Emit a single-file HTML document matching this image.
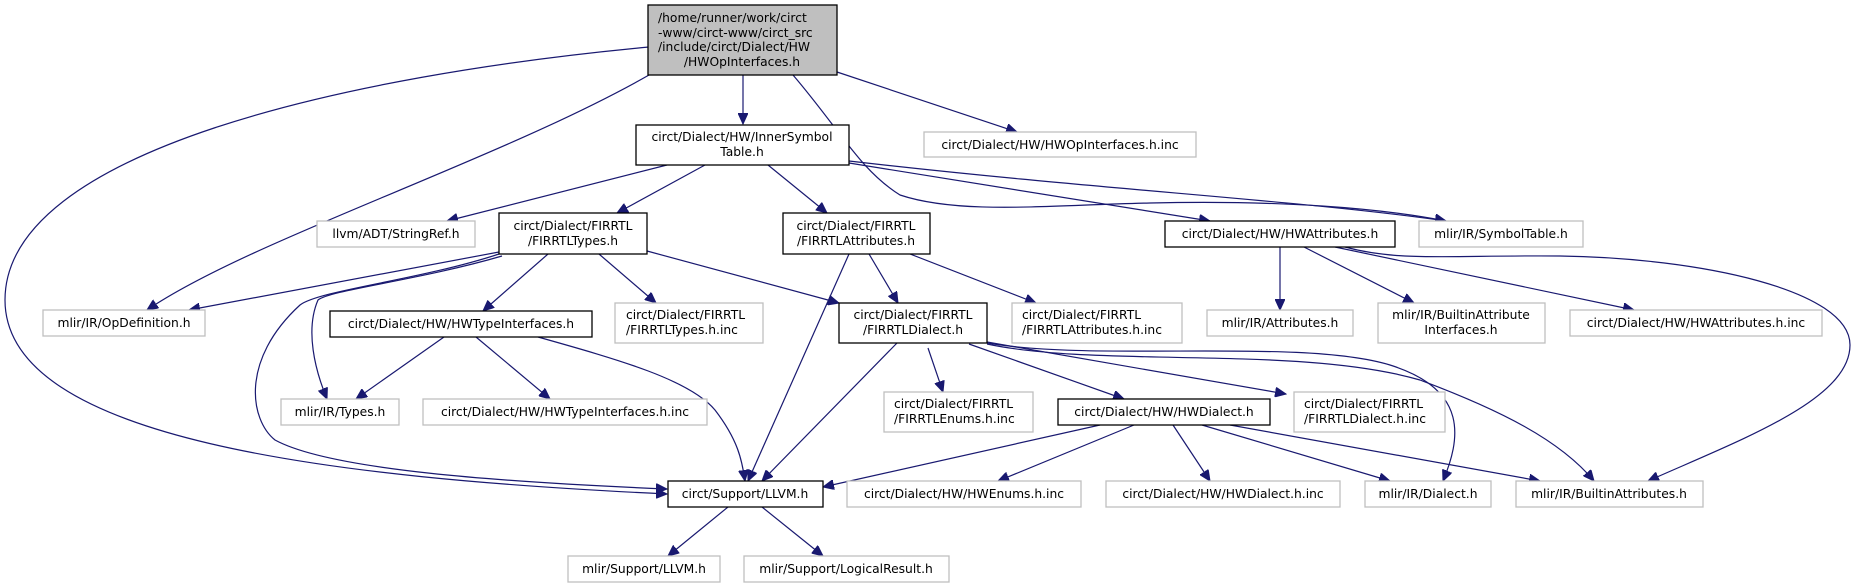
<!DOCTYPE html>
<html><head><meta charset="utf-8"><style>
html,body{margin:0;padding:0;background:#fff;}
svg{display:block;}
text{font-family:"DejaVu Sans","Liberation Sans",sans-serif;font-size:12.3px;fill:#000;}
.g{fill:#fff;stroke:#bfbfbf;stroke-width:1.3;}
.b{fill:#fff;stroke:#000;stroke-width:1.3;}
.e{fill:none;stroke:#191970;stroke-width:1.2;}
</style></head><body>
<svg width="1856" height="588" viewBox="0 0 1856 588" xmlns="http://www.w3.org/2000/svg">
<defs><marker id="a" markerUnits="userSpaceOnUse" markerWidth="12" markerHeight="10" refX="11" refY="5" orient="auto"><path d="M0,0 L11,5 L0,10 z" fill="#191970" stroke="#191970"/></marker></defs>

<g class="e" marker-end="url(#a)">
<path d="M743,75 L743,124"/>
<path d="M649,47 C350,75 5,150 5,300 C5,440 330,478 667,494"/>
<path d="M649,75 C500,160 250,240 147,310"/>
<path d="M793,75 C840,130 860,170 900,195 C960,215 1050,205 1150,203 C1280,200 1380,208 1446,221"/>
<path d="M837,72 L1017,132"/>
<path d="M667,165 L447,221"/>
<path d="M705,165 L617,213"/>
<path d="M768,165 L827,213"/>
<path d="M849,163 L1210,221"/>
<path d="M849,161 C1100,190 1300,200 1446,221"/>
<path d="M499,252 L189,310"/>
<path d="M499,254 C420,280 320,290 300,305 C240,360 250,420 275,440 C330,470 500,482 667,489"/>
<path d="M502,256 C420,280 330,290 318,300 C305,330 315,370 327,399"/>
<path d="M548,254 L483,311"/>
<path d="M599,254 L656,303"/>
<path d="M647,251 L839,303"/>
<path d="M849,254 L748,481"/>
<path d="M869,254 L898,303"/>
<path d="M910,254 L1036,303"/>
<path d="M1280,247 L1280,310"/>
<path d="M1304,247 L1414,303"/>
<path d="M1335,247 L1634,310"/>
<path d="M1345,247 C1400,262 1450,255 1560,256 C1700,258 1850,290 1850,345 C1850,400 1740,440 1648,481"/>
<path d="M444,337 L356,399"/>
<path d="M476,337 L550,399"/>
<path d="M538,337 C620,360 690,380 715,410 C738,440 742,460 745,481"/>
<path d="M897,343 L762,481"/>
<path d="M928,348 L943,392"/>
<path d="M969,344 L1124,399"/>
<path d="M987,342 L1286,394"/>
<path d="M987,343 C1100,362 1300,338 1390,365 C1470,390 1460,440 1443,481"/>
<path d="M987,344 C1100,368 1300,345 1420,380 C1500,410 1560,440 1594,481"/>
<path d="M1100,425 L823,487"/>
<path d="M1134,425 L998,481"/>
<path d="M1173,425 L1210,481"/>
<path d="M1202,425 L1390,481"/>
<path d="M1230,425 L1540,481"/>
<path d="M728,507 L668,556"/>
<path d="M762,507 L823,556"/>
</g>

<rect x="648" y="5" width="189" height="70" fill="#bfbfbf" stroke="#000" stroke-width="1.3"/>
<text x="658" y="22">/home/runner/work/circt</text>
<text x="658" y="37">-www/circt-www/circt_src</text>
<text x="658" y="51">/include/circt/Dialect/HW</text>
<text x="742" y="66" text-anchor="middle">/HWOpInterfaces.h</text>

<rect class="b" x="636" y="125" width="213" height="40"/>
<text x="742" y="141" text-anchor="middle">circt/Dialect/HW/InnerSymbol</text>
<text x="742" y="156" text-anchor="middle">Table.h</text>

<rect class="g" x="924" y="132" width="272" height="25"/>
<text x="1060" y="149" text-anchor="middle">circt/Dialect/HW/HWOpInterfaces.h.inc</text>

<rect class="g" x="317" y="221" width="158" height="26"/>
<text x="396" y="238" text-anchor="middle">llvm/ADT/StringRef.h</text>

<rect class="b" x="499" y="213" width="148" height="41"/>
<text x="573" y="230" text-anchor="middle">circt/Dialect/FIRRTL</text>
<text x="573" y="245" text-anchor="middle">/FIRRTLTypes.h</text>

<rect class="b" x="783" y="213" width="147" height="41"/>
<text x="856" y="230" text-anchor="middle">circt/Dialect/FIRRTL</text>
<text x="856" y="245" text-anchor="middle">/FIRRTLAttributes.h</text>

<rect class="b" x="1165" y="221" width="230" height="26"/>
<text x="1280" y="238" text-anchor="middle">circt/Dialect/HW/HWAttributes.h</text>

<rect class="g" x="1419" y="221" width="164" height="26"/>
<text x="1501" y="238" text-anchor="middle">mlir/IR/SymbolTable.h</text>

<rect class="g" x="43" y="310" width="162" height="26"/>
<text x="124" y="327" text-anchor="middle">mlir/IR/OpDefinition.h</text>

<rect class="b" x="330" y="311" width="262" height="26"/>
<text x="461" y="328" text-anchor="middle">circt/Dialect/HW/HWTypeInterfaces.h</text>

<rect class="g" x="615" y="303" width="148" height="40"/>
<text x="626" y="319">circt/Dialect/FIRRTL</text>
<text x="626" y="334">/FIRRTLTypes.h.inc</text>

<rect class="b" x="839" y="303" width="148" height="40"/>
<text x="913" y="319" text-anchor="middle">circt/Dialect/FIRRTL</text>
<text x="913" y="334" text-anchor="middle">/FIRRTLDialect.h</text>

<rect class="g" x="1012" y="303" width="170" height="40"/>
<text x="1022" y="319">circt/Dialect/FIRRTL</text>
<text x="1022" y="334">/FIRRTLAttributes.h.inc</text>

<rect class="g" x="1207" y="310" width="146" height="26"/>
<text x="1280" y="327" text-anchor="middle">mlir/IR/Attributes.h</text>

<rect class="g" x="1378" y="303" width="167" height="40"/>
<text x="1461" y="319" text-anchor="middle">mlir/IR/BuiltinAttribute</text>
<text x="1461" y="334" text-anchor="middle">Interfaces.h</text>

<rect class="g" x="1570" y="310" width="252" height="26"/>
<text x="1696" y="327" text-anchor="middle">circt/Dialect/HW/HWAttributes.h.inc</text>

<rect class="g" x="281" y="399" width="118" height="26"/>
<text x="340" y="416" text-anchor="middle">mlir/IR/Types.h</text>

<rect class="g" x="423" y="399" width="284" height="26"/>
<text x="565" y="416" text-anchor="middle">circt/Dialect/HW/HWTypeInterfaces.h.inc</text>

<rect class="g" x="884" y="392" width="149" height="40"/>
<text x="894" y="408">circt/Dialect/FIRRTL</text>
<text x="894" y="423">/FIRRTLEnums.h.inc</text>

<rect class="b" x="1058" y="399" width="212" height="26"/>
<text x="1164" y="416" text-anchor="middle">circt/Dialect/HW/HWDialect.h</text>

<rect class="g" x="1294" y="392" width="151" height="40"/>
<text x="1304" y="408">circt/Dialect/FIRRTL</text>
<text x="1304" y="423">/FIRRTLDialect.h.inc</text>

<rect class="b" x="668" y="481" width="155" height="26"/>
<text x="745" y="498" text-anchor="middle">circt/Support/LLVM.h</text>

<rect class="g" x="847" y="481" width="234" height="26"/>
<text x="964" y="498" text-anchor="middle">circt/Dialect/HW/HWEnums.h.inc</text>

<rect class="g" x="1106" y="481" width="234" height="26"/>
<text x="1223" y="498" text-anchor="middle">circt/Dialect/HW/HWDialect.h.inc</text>

<rect class="g" x="1365" y="481" width="126" height="26"/>
<text x="1428" y="498" text-anchor="middle">mlir/IR/Dialect.h</text>

<rect class="g" x="1516" y="481" width="187" height="26"/>
<text x="1609" y="498" text-anchor="middle">mlir/IR/BuiltinAttributes.h</text>

<rect class="g" x="568" y="556" width="152" height="26"/>
<text x="644" y="573" text-anchor="middle">mlir/Support/LLVM.h</text>

<rect class="g" x="744" y="556" width="205" height="26"/>
<text x="846" y="573" text-anchor="middle">mlir/Support/LogicalResult.h</text>
</svg>
</body></html>
